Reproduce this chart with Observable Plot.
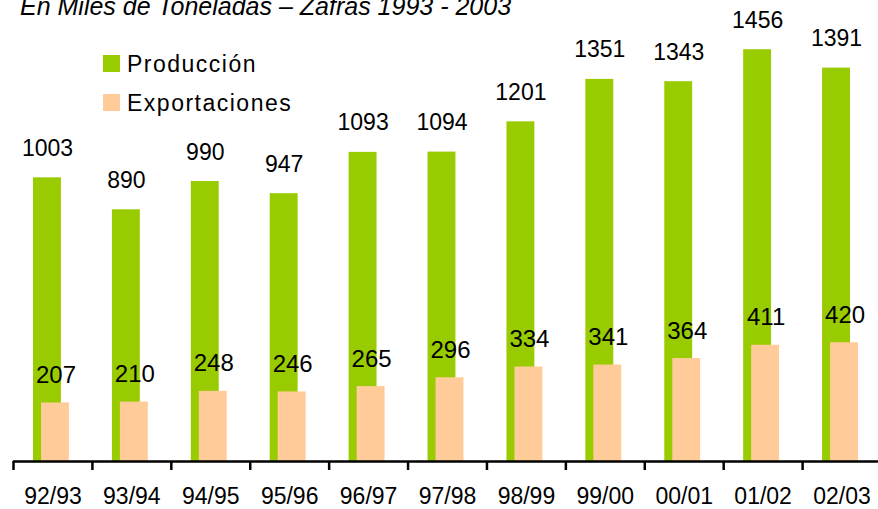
<!DOCTYPE html>
<html>
<head>
<meta charset="utf-8">
<script src="https://cdn.jsdelivr.net/npm/d3@7"></script>
<script src="https://cdn.jsdelivr.net/npm/@observablehq/plot@0.6"></script>
<style>
  html, body { margin: 0; padding: 0; background: #fff; overflow: hidden; }
  #wrap { position: relative; width: 878px; height: 509px; font-family: "Liberation Sans", Arial, sans-serif; }
  #title { position: absolute; left: 20px; top: -6px; font-size: 25px; line-height: 25px; font-style: italic; white-space: pre; color: #000; }
  .leg { position: absolute; left: 103px; font-size: 23px; line-height: 17px; letter-spacing: 1.5px; color: #000; white-space: nowrap; }
  .leg .sw { position: absolute; left: 0; top: 0; width: 17px; height: 17px; }
  .leg .lb { position: absolute; left: 24px; top: 1px; }
  #chart { position: absolute; left: 0; top: 0; }
</style>
</head>
<body>
<div id="wrap">
  <div id="chart"></div>
  <div id="title">En Miles de Toneladas – Zafras 1993 - 2003</div>
  <div class="leg" id="leg1" style="top:55px"><span class="sw" style="background:#99cc00"></span><span class="lb">Producción</span></div>
  <div class="leg" id="leg2" style="top:94px"><span class="sw" style="background:#ffcc99"></span><span class="lb">Exportaciones</span></div>
</div>
<script>
const seasons = ["92/93", "93/94", "94/95", "95/96", "96/97", "97/98", "98/99", "99/00", "00/01", "01/02", "02/03"];
const produccion = [1003, 890, 990, 947, 1093, 1094, 1201, 1351, 1343, 1456, 1391];
const exportaciones = [207, 210, 248, 246, 265, 296, 334, 341, 364, 411, 420];

const green = "#99cc00";
const peach = "#ffcc99";

const rows = seasons.map((s, i) => ({season: s, prod: produccion[i], exp: exportaciones[i]}));

const chart = Plot.plot({
  width: 878,
  height: 509,
  marginTop: 0,
  marginLeft: 13,
  marginRight: 0,
  marginBottom: 48,
  style: {fontFamily: "'Liberation Sans', Arial, sans-serif", fontSize: "23px", color: "#000", background: "transparent", overflow: "visible"},
  x: {domain: seasons, range: [13, 881], padding: 0, round: false},
  y: {domain: [0, 1630], axis: null},
  marks: [
    Plot.barY(rows, {x: "season", y: "prod", fill: green, insetLeft: 20, insetRight: 31}),
    Plot.barY(rows, {x: "season", y: "exp", fill: peach, insetLeft: 28, insetRight: 23}),
    Plot.text(rows, {x: "season", y: "prod", text: d => String(d.prod), dx: -5.5, dy: -22, lineAnchor: "bottom", fontSize: 23, fill: "#000"}),
    Plot.text(rows, {x: "season", y: "exp", text: d => String(d.exp), dx: 3, dy: -20, lineAnchor: "bottom", fontSize: 24, fill: "#000"}),
    Plot.ruleY([0], {stroke: "#000", strokeWidth: 2.5}),
    Plot.ruleX(seasons, {x: d => d, y1: 0, y2: 0, insetBottom: -9, dx: -39.45, stroke: "#000", strokeWidth: 2.5}),
    Plot.axisX({tickSize: 0, tickPadding: 26, fontSize: 23, label: null, fill: "#000"})
  ]
});
document.getElementById("chart").appendChild(chart);
</script>
</body>
</html>
